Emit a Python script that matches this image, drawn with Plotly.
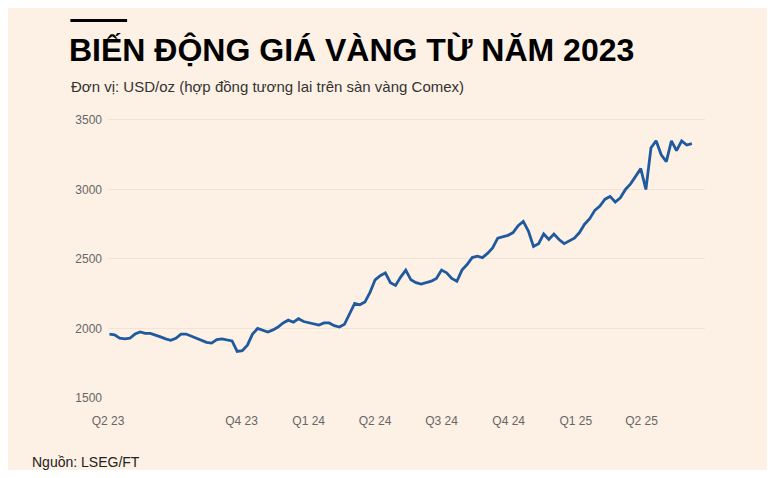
import pandas as pd
import plotly.graph_objects as go

# weekly gold futures price, USD/oz
gia = [1960, 1955, 1930, 1925,
       1930, 1960, 1975, 1965,
       1965, 1955, 1940, 1925,
       1915, 1930, 1960, 1960, 1945,
       1935, 1915, 1900, 1895,
       1920, 1925, 1915, 1910,
       1835, 1840, 1880, 1960, 2000,
       1990, 1975, 1990, 2010,
       2040, 2060, 2045, 2070,
       2050, 2040, 2030, 2025, 2040,
       2040, 2020, 2010, 2030,
       2100, 2180, 2170, 2190,
       2260, 2350, 2380, 2400, 2330,
       2310, 2370, 2420, 2350,
       2330, 2320, 2330, 2340,
       2360, 2420, 2400, 2360, 2340,
       2420, 2460, 2510, 2520,
       2510, 2540, 2580, 2650, 2660,
       2670, 2690, 2740, 2770,
       2700, 2590, 2610, 2680,
       2640, 2680, 2640, 2610, 2630,
       2650, 2690, 2750, 2790,
       2850, 2880, 2930, 2950,
       2910, 2940, 3000, 3040, 3100,
       3150, 3000, 3300, 3350,
       3250, 3200, 3350, 3280,
       3350, 3320, 3330]
ngay = pd.date_range('2023-04-03', periods=len(gia), freq='W-MON')

tick_vals = ['2023-04-01', '2023-10-01', '2024-01-01', '2024-04-01', '2024-07-01',
             '2024-10-01', '2025-01-01', '2025-04-01']
tick_text = ['Q2 23', 'Q4 23', 'Q1 24', 'Q2 24', 'Q3 24', 'Q4 24', 'Q1 25', 'Q2 25']

bg = '#fdf0e4'

fig = go.Figure()
fig.add_trace(go.Scatter(x=ngay, y=gia, mode='lines',
                         line=dict(color='#1f5a9e', width=2.8)))

fig.update_layout(
    width=759, height=462,
    paper_bgcolor=bg, plot_bgcolor=bg,
    showlegend=False,
    margin=dict(l=100, r=62, t=105, b=72),
    font=dict(family='Liberation Sans', color='#555'),
    xaxis=dict(
        range=['2023-04-01', '2025-06-27'],
        tickvals=tick_vals, ticktext=tick_text,
        showgrid=False, showline=False, zeroline=False,
        tickfont=dict(size=12, color='#666'),
        ticklabelstandoff=14,
    ),
    yaxis=dict(
        range=[1500, 3550],
        tickvals=[1500, 2000, 2500, 3000, 3500],
        showgrid=True, gridcolor='#f3e3d5', zeroline=False,
        tickfont=dict(size=12, color='#666'),
        ticklabelstandoff=5,
    ),
    shapes=[dict(type='line', xref='paper', yref='paper',
                 x0=-0.063, x1=0.032, y0=1.325, y1=1.325,
                 line=dict(color='black', width=3))],
    annotations=[
        dict(text='<b>BIẾN ĐỘNG GIÁ VÀNG TỪ NĂM 2023</b>', xref='paper', yref='paper',
             x=-0.068, y=1.29, xanchor='left', yanchor='top', showarrow=False,
             font=dict(size=32, color='black', family='Liberation Sans')),
        dict(text='Đơn vị: USD/oz (hợp đồng tương lai trên sàn vàng Comex)',
             xref='paper', yref='paper', x=-0.066, y=1.13, xanchor='left',
             yanchor='top', showarrow=False,
             font=dict(size=15, color='#333')),
        dict(text='Nguồn: LSEG/FT', xref='paper', yref='paper', x=-0.13, y=-0.19,
             xanchor='left', yanchor='top', showarrow=False,
             font=dict(size=14, color='#222')),
    ],
)

fig.write_html("out.html")
